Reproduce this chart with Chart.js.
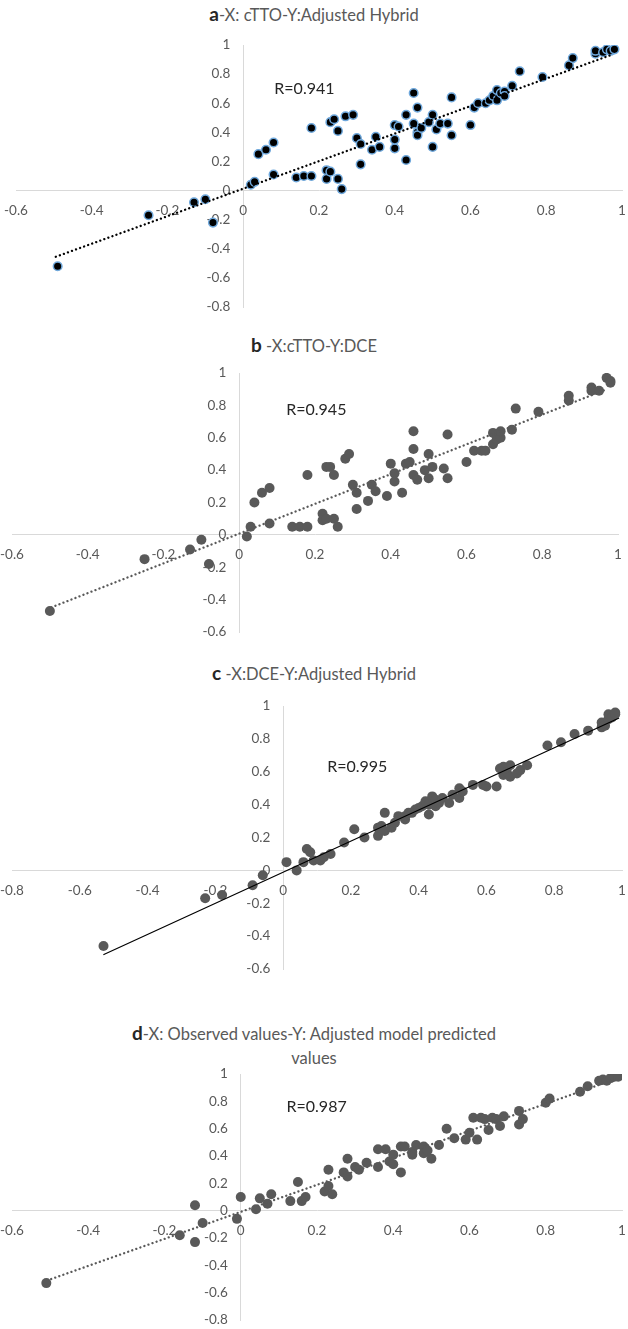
<!DOCTYPE html>
<html>
<head>
<meta charset="utf-8">
<script src="https://cdn.jsdelivr.net/npm/chart.js@4.4.1/dist/chart.umd.min.js"></script>
<style>
  body { margin: 0; background: #fff; }
  #wrap { position: relative; width: 628px; height: 1329px; font-family: Lato, "Open Sans", sans-serif; }
  .titulo { position: absolute; left: 0; width: 628px; text-align: center; color: #595959; font-size: 16.5px; line-height: 24px; }
  .titulo b { color: #262626; font-size: 19px; }
  canvas { position: absolute; left: 0; }
</style>
</head>
<body>
<div id="wrap">
  <div class="titulo" style="top:2px; padding-right:10px;"><b>a</b>-X: cTTO-Y:Adjusted Hybrid</div>
  <canvas id="grafA" width="628" height="295" style="top:30px"></canvas>

  <div class="titulo" style="top:333px; padding-right:6px;"><b>b</b> -X:cTTO-Y:DCE</div>
  <canvas id="grafB" width="628" height="295" style="top:355px"></canvas>

  <div class="titulo" style="top:661px; padding-right:34px;"><b>c</b> -X:DCE-Y:Adjusted Hybrid</div>
  <canvas id="grafC" width="628" height="300" style="top:690px"></canvas>

  <div class="titulo" style="top:1021px; padding-right:46px;"><b>d</b>-X: Observed values-Y: Adjusted model predicted<br>values</div>
  <canvas id="grafD" width="628" height="264" style="top:1065px"></canvas>
</div>

<script>
// a - X: cTTO, Y: Adjusted Hybrid
const aX = [-0.49,-0.25,-0.13,-0.10,-0.08,0.02,0.03,0.04,0.06,0.08,0.08,0.14,0.16,0.18,0.18,0.22,0.22,0.23,0.25,0.26,0.23,0.24,0.25,0.27,0.29,0.30,0.31,0.31,0.34,0.35,0.36,0.40,0.40,0.40,0.41,0.43,0.43,0.45,0.46,0.45,0.46,0.46,0.47,0.49,0.50,0.51,0.50,0.52,0.54,0.55,0.55,0.60,0.61,0.62,0.64,0.65,0.66,0.67,0.67,0.68,0.69,0.69,0.71,0.73,0.79,0.86,0.87,0.93,0.93,0.95,0.96,0.97,0.98];
const aY = [-0.52,-0.17,-0.08,-0.06,-0.22,0.04,0.06,0.25,0.28,0.33,0.11,0.09,0.10,0.10,0.43,0.14,0.08,0.13,0.08,0.01,0.47,0.49,0.41,0.51,0.52,0.36,0.32,0.18,0.28,0.37,0.30,0.29,0.35,0.45,0.44,0.52,0.21,0.67,0.57,0.46,0.40,0.38,0.43,0.47,0.52,0.42,0.30,0.46,0.46,0.38,0.64,0.45,0.57,0.60,0.60,0.62,0.65,0.62,0.69,0.67,0.68,0.65,0.72,0.82,0.78,0.86,0.91,0.94,0.96,0.95,0.97,0.96,0.97];
const aTendX = [-0.495, 0.975];
const aTendY = [-0.455, 0.935];

// b - X: cTTO, Y: DCE
const bX = [-0.50,-0.25,-0.13,-0.10,-0.08,0.02,0.03,0.04,0.06,0.08,0.08,0.14,0.16,0.18,0.18,0.22,0.22,0.23,0.25,0.26,0.23,0.24,0.25,0.28,0.29,0.30,0.31,0.31,0.34,0.35,0.36,0.39,0.41,0.40,0.41,0.43,0.44,0.46,0.46,0.45,0.46,0.47,0.49,0.50,0.50,0.51,0.54,0.55,0.55,0.60,0.62,0.64,0.65,0.67,0.67,0.68,0.69,0.69,0.72,0.73,0.79,0.87,0.87,0.93,0.93,0.95,0.97,0.98,0.98];
const bY = [-0.47,-0.15,-0.09,-0.03,-0.18,-0.01,0.05,0.20,0.26,0.29,0.07,0.05,0.05,0.05,0.37,0.09,0.13,0.10,0.10,0.05,0.42,0.42,0.37,0.47,0.50,0.31,0.26,0.16,0.21,0.31,0.27,0.24,0.33,0.44,0.38,0.26,0.44,0.64,0.53,0.45,0.37,0.34,0.40,0.50,0.35,0.42,0.41,0.35,0.62,0.45,0.52,0.52,0.52,0.56,0.63,0.59,0.60,0.64,0.65,0.78,0.76,0.83,0.86,0.91,0.89,0.89,0.97,0.95,0.94];
const bTendX = [-0.496, 0.971];
const bTendY = [-0.448, 0.90];

// c - X: DCE, Y: Adjusted Hybrid
const cX = [-0.53,-0.23,-0.18,-0.09,-0.06,0.01,0.04,0.06,0.07,0.08,0.09,0.11,0.12,0.14,0.18,0.21,0.24,0.28,0.28,0.30,0.29,0.30,0.32,0.33,0.34,0.36,0.36,0.37,0.38,0.39,0.40,0.41,0.42,0.43,0.43,0.44,0.45,0.45,0.46,0.47,0.49,0.50,0.52,0.52,0.53,0.56,0.59,0.60,0.63,0.64,0.65,0.65,0.66,0.67,0.67,0.69,0.70,0.72,0.78,0.82,0.86,0.90,0.94,0.94,0.95,0.96,0.96,0.97,0.98,0.98];
const cY = [-0.46,-0.17,-0.15,-0.09,-0.03,0.05,0.00,0.05,0.13,0.11,0.06,0.06,0.08,0.10,0.17,0.25,0.20,0.26,0.21,0.35,0.27,0.24,0.26,0.29,0.33,0.31,0.33,0.35,0.35,0.37,0.38,0.39,0.42,0.34,0.40,0.45,0.39,0.43,0.41,0.44,0.41,0.46,0.44,0.50,0.48,0.52,0.52,0.51,0.51,0.62,0.58,0.63,0.60,0.57,0.64,0.59,0.61,0.64,0.76,0.78,0.83,0.85,0.90,0.87,0.88,0.92,0.95,0.93,0.96,0.95];
const cTendX = [-0.529, 0.99];
const cTendY = [-0.512, 0.925];

// d - X: observed, Y: adjusted model predicted
const dX = [-0.51,-0.16,-0.12,-0.10,-0.12,-0.01,0.00,0.04,0.05,0.07,0.08,0.13,0.15,0.16,0.17,0.22,0.23,0.23,0.24,0.27,0.28,0.28,0.30,0.31,0.33,0.36,0.36,0.38,0.39,0.40,0.40,0.42,0.42,0.43,0.45,0.45,0.46,0.48,0.48,0.50,0.49,0.52,0.54,0.56,0.59,0.60,0.61,0.62,0.63,0.64,0.65,0.66,0.67,0.68,0.69,0.73,0.73,0.74,0.80,0.81,0.89,0.91,0.94,0.95,0.96,0.97,0.98,0.99];
const dY = [-0.53,-0.18,0.04,-0.09,-0.23,-0.06,0.10,0.01,0.09,0.05,0.12,0.07,0.21,0.07,0.10,0.14,0.30,0.18,0.12,0.28,0.38,0.25,0.32,0.30,0.35,0.32,0.45,0.45,0.36,0.34,0.41,0.28,0.47,0.47,0.43,0.41,0.48,0.47,0.42,0.38,0.44,0.48,0.60,0.53,0.52,0.57,0.68,0.52,0.68,0.67,0.59,0.68,0.67,0.62,0.69,0.73,0.63,0.67,0.79,0.82,0.87,0.91,0.95,0.96,0.95,0.97,0.98,0.98];
const dTendX = [-0.508, 0.99];
const dTendY = [-0.511, 0.97];

// texte R sur le graphique
const etiquetteR = {
    id: 'etiquetteR',
    afterDatasetsDraw(chart, args, opts) {
        const ctx = chart.ctx;
        const px = chart.scales.x.getPixelForValue(opts.x);
        const py = chart.scales.y.getPixelForValue(opts.y);
        ctx.save();
        ctx.font = '16px Lato';
        ctx.fillStyle = '#262626';
        ctx.textAlign = 'left';
        ctx.textBaseline = 'middle';
        ctx.fillText(opts.text, px, py);
        ctx.restore();
    }
};

function points(xs, ys) {
    return xs.map((x, i) => ({ x: x, y: ys[i] }));
}

function etiquette(v) {
    return String(Math.round(v * 10) / 10);
}

const policeTicks = { family: 'Lato', size: 13.5 };

function graf(id, xs, ys, tx, ty, o) {
    const ctx = document.getElementById(id);
    const sansGrille = { display: false, drawTicks: false };
    return new Chart(ctx, {
        type: 'scatter',
        data: {
            datasets: [{
                type: 'line',
                data: points(tx, ty),
                borderColor: o.lineColor,
                borderWidth: o.lineWidth,
                borderDash: o.dash,
                borderCapStyle: 'round',
                pointRadius: 0,
                fill: false
            }, {
                data: points(xs, ys),
                backgroundColor: o.fill,
                borderColor: o.border,
                borderWidth: o.borderWidth,
                pointRadius: o.radius,
                pointHoverRadius: o.radius
            }]
        },
        options: {
            responsive: false,
            animation: false,
            layout: { padding: o.padding },
            plugins: {
                legend: { display: false },
                tooltip: { enabled: false },
                etiquetteR: o.r
            },
            scales: {
                // axes traces en 0
                x: {
                    type: 'linear',
                    position: { y: 0 },
                    min: o.xMin, max: 1,
                    grid: sansGrille,
                    border: { color: '#d9d9d9', width: 1 },
                    ticks: { display: false, stepSize: 0.2, padding: 0 }
                },
                y: {
                    type: 'linear',
                    position: { x: 0 },
                    min: o.yMin, max: 1,
                    grid: sansGrille,
                    border: { color: '#d9d9d9', width: 1 },
                    ticks: { display: false, stepSize: 0.2, padding: 0 }
                },
                // axes fantomes: seulement les etiquettes, un peu decalees
                xl: {
                    type: 'linear',
                    position: { y: o.yMin === undefined ? 0 : -o.gapY },
                    min: o.xMin, max: 1,
                    grid: sansGrille,
                    border: { display: false },
                    ticks: { stepSize: 0.2, padding: 0, color: '#595959', font: policeTicks, callback: etiquette }
                },
                yl: {
                    type: 'linear',
                    position: { x: -o.gapX },
                    min: o.yMin, max: 1,
                    grid: sansGrille,
                    border: { display: false },
                    ticks: { stepSize: 0.2, padding: 0, color: '#595959', font: policeTicks, callback: etiquette }
                }
            }
        },
        plugins: [etiquetteR]
    });
}

graf('grafA', aX, aY, aTendX, aTendY, {
    xMin: -0.6, yMin: -0.8, gapX: 0.034, gapY: 0.082,
    padding: { left: 16, right: 6, top: 15, bottom: 18 },
    fill: '#000000', border: '#6fa8dc', borderWidth: 1.5, radius: 4.3,
    lineColor: '#000000', lineWidth: 2.3, dash: [0.1, 4.2],
    r: { text: 'R=0.941', x: 0.082, y: 0.70 }
});

graf('grafB', bX, bY, bTendX, bTendY, {
    xMin: -0.6, yMin: -0.6, gapX: 0.034, gapY: 0.074,
    padding: { left: 12, right: 10, top: 18, bottom: 18 },
    fill: '#595959', border: '#595959', borderWidth: 0, radius: 5,
    lineColor: '#595959', lineWidth: 2.3, dash: [0.1, 4.2],
    r: { text: 'R=0.945', x: 0.124, y: 0.77 }
});

graf('grafC', cX, cY, cTendX, cTendY, {
    xMin: -0.8, yMin: -0.6, gapX: 0.038, gapY: 0.073,
    padding: { left: 12, right: 6, top: 16, bottom: 21 },
    fill: '#595959', border: '#595959', borderWidth: 0, radius: 5,
    lineColor: '#000000', lineWidth: 1.2, dash: [],
    r: { text: 'R=0.995', x: 0.13, y: 0.63 }
});

graf('grafD', dX, dY, dTendX, dTendY, {
    xMin: -0.6, yMin: -0.8, gapX: 0.034, gapY: 0.088,
    padding: { left: 12, right: 6, top: 9, bottom: 9 },
    fill: '#595959', border: '#595959', borderWidth: 0, radius: 5,
    lineColor: '#595959', lineWidth: 2.3, dash: [0.1, 4.2],
    r: { text: 'R=0.987', x: 0.12, y: 0.76 }
});
</script>
</body>
</html>
